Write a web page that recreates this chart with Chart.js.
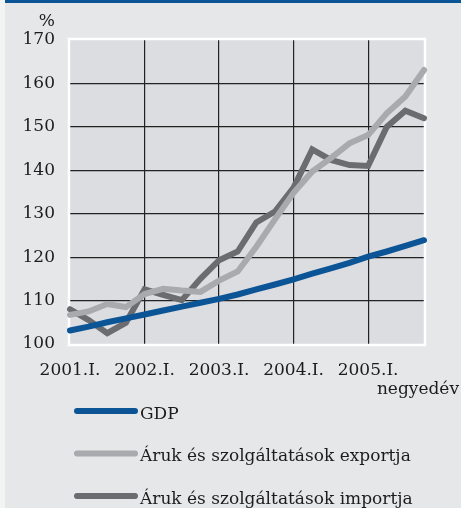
<!DOCTYPE html>
<html>
<head>
<meta charset="utf-8">
<script src="https://cdn.jsdelivr.net/npm/chart.js@4"></script>
<style>
  html, body { margin: 0; padding: 0; background: #f3f3f4; }
  #wrap { position: relative; width: 461px; height: 508px; overflow: hidden; }
  #panel { position: absolute; left: 5px; top: 0; width: 456px; height: 508px; background: #e6e7e9; border-top: 3px solid #0b5597; box-sizing: border-box; }
  #chart { position: absolute; left: 0; top: 0; }
</style>
</head>
<body>
<div id="wrap">
  <div id="panel"></div>
  <canvas id="chart" width="461" height="508"></canvas>
</div>
<script>
// quarters 2001.I. - 2005.IV.
const quarters = [
    '2001.I.', '2001.II.', '2001.III.', '2001.IV.',
    '2002.I.', '2002.II.', '2002.III.', '2002.IV.',
    '2003.I.', '2003.II.', '2003.III.', '2003.IV.',
    '2004.I.', '2004.II.', '2004.III.', '2004.IV.',
    '2005.I.', '2005.II.', '2005.III.', '2005.IV.'
];
const gdp = [103.1, 104.0, 105.0, 105.9, 106.8, 107.7, 108.6, 109.5, 110.4, 111.4,
             112.6, 113.7, 114.9, 116.2, 117.4, 118.7, 120.1, 121.3, 122.6, 123.9];
const exportValues = [106.7, 107.5, 109.2, 108.5, 111.5, 112.7, 112.3, 112.0, 114.6, 116.7,
                      122.4, 128.7, 134.8, 139.7, 142.8, 146.2, 148.1, 153.1, 157.0, 163.1];
const importValues = [108.0, 105.5, 102.5, 104.9, 112.6, 111.3, 110.1, 115.0, 119.3, 121.3,
                      128.0, 130.5, 136.0, 144.8, 142.4, 141.2, 141.0, 150.0, 153.7, 152.0];
const seriesNames = ['GDP', 'Áruk és szolgáltatások exportja', 'Áruk és szolgáltatások importja'];
const yTicks = [100, 110, 120, 130, 140, 150, 160, 170];
const unitLabel = '%';
const xAxisTitle = 'negyedév';

const textColor = '#1c1c1c';
const fontFamily = "'DejaVu Serif', serif";

Chart.defaults.font.family = fontFamily;
Chart.defaults.font.size = 17;
Chart.defaults.color = textColor;

// plot background, white frame, extra texts and the legend
const framePlugin = {
    id: 'frame',
    beforeDraw(chart) {
        const a = chart.chartArea;
        const ctx = chart.ctx;
        ctx.save();
        ctx.fillStyle = '#dcdde0';
        ctx.fillRect(a.left, a.top, a.right - a.left, a.bottom - a.top);
        ctx.restore();
    },
    beforeDatasetsDraw(chart) {
        const a = chart.chartArea;
        const ctx = chart.ctx;
        ctx.save();
        ctx.strokeStyle = '#ffffff';
        ctx.lineWidth = 2.5;
        ctx.strokeRect(a.left - 1, a.top - 1, a.right - a.left + 2, a.bottom - a.top + 2);
        ctx.restore();
    },
    afterDraw(chart) {
        const a = chart.chartArea;
        const ctx = chart.ctx;
        ctx.save();
        ctx.fillStyle = textColor;
        ctx.font = '17px ' + fontFamily;
        ctx.textAlign = 'right';
        ctx.textBaseline = 'alphabetic';
        ctx.fillText(unitLabel, a.left - 15, 26);
        ctx.fillText(xAxisTitle, 459, 394);

        // legend
        ctx.textAlign = 'left';
        chart.data.datasets.forEach((ds, k) => {
            const y = 411 + k * 42.5;
            ctx.strokeStyle = ds.borderColor;
            ctx.lineWidth = 6;
            ctx.lineCap = 'round';
            ctx.beginPath();
            ctx.moveTo(77, y);
            ctx.lineTo(135, y);
            ctx.stroke();
            ctx.fillText(ds.label, 140, y + 7.5);
        });
        ctx.restore();
    }
};

new Chart(document.getElementById('chart'), {
    type: 'line',
    data: {
        labels: quarters,
        datasets: [{
            label: seriesNames[0],
            data: gdp,
            borderColor: '#0b5597'
        }, {
            label: seriesNames[1],
            data: exportValues,
            borderColor: '#a9aaad'
        }, {
            label: seriesNames[2],
            data: importValues,
            borderColor: '#6b6c6f'
        }]
    },
    options: {
        responsive: false,
        animation: false,
        layout: { padding: { left: 0, top: 40, right: 37, bottom: 0 } },
        elements: {
            line: { borderWidth: 6, borderCapStyle: 'round', borderJoinStyle: 'miter', tension: 0 },
            point: { radius: 0, hoverRadius: 0 }
        },
        datasets: { line: { clip: false } },
        plugins: {
            legend: { display: false },
            tooltip: { enabled: false }
        },
        scales: {
            x: {
                type: 'category',
                offset: false,
                border: { display: false },
                grid: {
                    drawTicks: false,
                    lineWidth: 1.2,
                    color: ctx => (ctx.index > 0 && ctx.index % 4 === 0) ? '#222222' : 'rgba(0,0,0,0)'
                },
                ticks: {
                    autoSkip: false,
                    maxRotation: 0,
                    padding: 16,
                    callback: (val, i) => i % 4 === 0 ? quarters[i] : ''
                },
                afterFit: scale => { scale.height = 164; }
            },
            y: {
                min: yTicks[0],
                max: yTicks[yTicks.length - 1],
                border: { display: false },
                afterBuildTicks: scale => { scale.ticks = yTicks.map(v => ({ value: v })); },
                grid: {
                    drawTicks: false,
                    lineWidth: 1.2,
                    color: ctx => (ctx.tick && ctx.tick.value > yTicks[0] && ctx.tick.value < yTicks[yTicks.length - 1]) ? '#222222' : 'rgba(0,0,0,0)'
                },
                ticks: { padding: 15 },
                afterFit: scale => { scale.width = 70; }
            }
        }
    },
    plugins: [framePlugin]
});
</script>
</body>
</html>
